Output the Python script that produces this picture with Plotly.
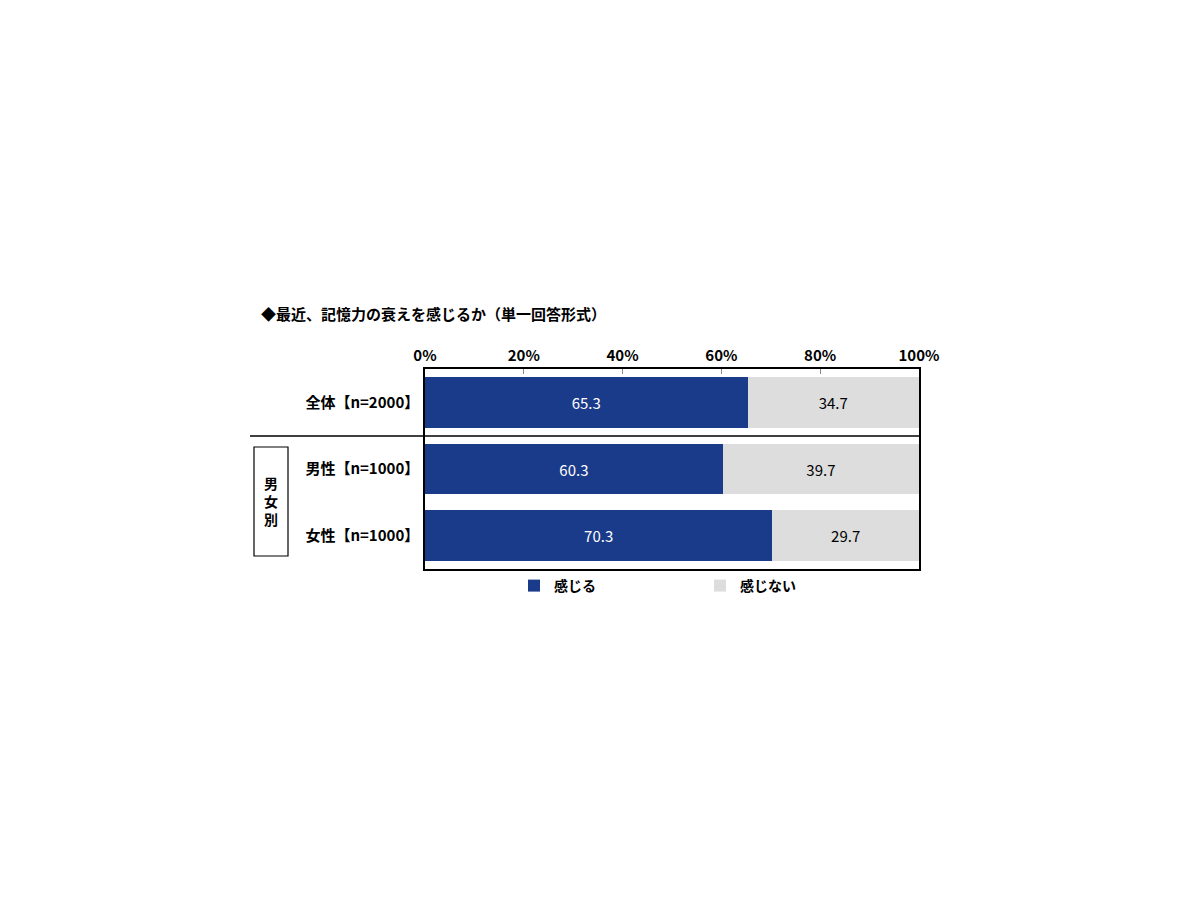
import plotly.graph_objects as go

categories = ["全体【n=2000】", "男性【n=1000】", "女性【n=1000】"]
feel = [65.3, 60.3, 70.3]
not_feel = [34.7, 39.7, 29.7]
series_names = ["感じる", "感じない"]
tick_vals = [0, 20, 40, 60, 80, 100]
tick_text = ["0%", "20%", "40%", "60%", "80%", "100%"]

FONT = "Noto Sans CJK JP"
W, H = 1200, 900
PAGE_OFF = 8  # browser body margin


def px_x(v):
    return (v - PAGE_OFF) / W


def px_y(v):
    return 1 - (v - PAGE_OFF) / H


fig = go.Figure()
fig.add_trace(go.Bar(
    y=categories, x=feel, name=series_names[0], orientation="h",
    marker=dict(color="#1a3a8a", line=dict(width=0)),
    text=[f"{v:.1f}" for v in feel], textposition="inside", insidetextanchor="middle",
    textfont=dict(color="white", size=15, family=FONT),
))
fig.add_trace(go.Bar(
    y=categories, x=not_feel, name=series_names[1], orientation="h",
    marker=dict(color="#dddddd", line=dict(width=0)),
    text=[f"{v:.1f}" for v in not_feel], textposition="inside", insidetextanchor="middle",
    textfont=dict(color="black", size=15, family=FONT),
))

fig.update_layout(
    width=W, height=H,
    barmode="stack", bargap=0.24,
    plot_bgcolor="white", paper_bgcolor="white",
    margin=dict(l=0, r=0, t=0, b=0),
    font=dict(family=FONT, color="black"),
    xaxis=dict(
        domain=[px_x(425), px_x(919)], range=[0, 100], side="top",
        tickvals=tick_vals, ticktext=tick_text,
        tickfont=dict(size=15, family=FONT, weight="bold"),
        ticks="inside", ticklen=5, tickcolor="#888888",
        showgrid=False, zeroline=False, automargin=False,
        showline=True, linecolor="black", linewidth=1.5, mirror=True,
        fixedrange=True,
    ),
    yaxis=dict(
        domain=[px_y(569), px_y(369)], range=[2.5, -0.5],
        categoryorder="array", categoryarray=categories,
        tickfont=dict(size=15, family=FONT, weight="bold"),
        ticks="", ticklabelstandoff=1,
        showgrid=False, zeroline=False, automargin=False,
        showline=True, linecolor="black", linewidth=1.5, mirror=True,
        fixedrange=True,
    ),
    showlegend=True,
    legend=dict(
        orientation="h", x=px_x(514), y=px_y(570), xanchor="left", yanchor="top",
        entrywidth=141, entrywidthmode="pixels", bgcolor="rgba(0,0,0,0)",
        font=dict(size=14, family=FONT, weight="bold"),
        itemwidth=30, traceorder="normal",
    ),
    title=dict(
        text="◆最近、記憶力の衰えを感じるか（単一回答形式）",
        x=px_x(261), xanchor="left", y=px_y(315), yanchor="middle",
        font=dict(size=15, family=FONT, weight="bold"),
    ),
)

# separator between total and gender rows
fig.add_shape(type="line", xref="paper", yref="paper",
              x0=px_x(250), x1=px_x(919), y0=px_y(436), y1=px_y(436),
              line=dict(color="black", width=1.5))
# group box
fig.add_shape(type="rect", xref="paper", yref="paper",
              x0=px_x(254), x1=px_x(288), y0=px_y(556), y1=px_y(447),
              line=dict(color="black", width=1.2), fillcolor="white")
fig.add_annotation(text="男<br>女<br>別", xref="paper", yref="paper",
                   x=px_x(271), y=px_y(501), xanchor="center", showarrow=False,
                   font=dict(size=14, family=FONT, weight="bold"))

fig.write_html("out.html")
